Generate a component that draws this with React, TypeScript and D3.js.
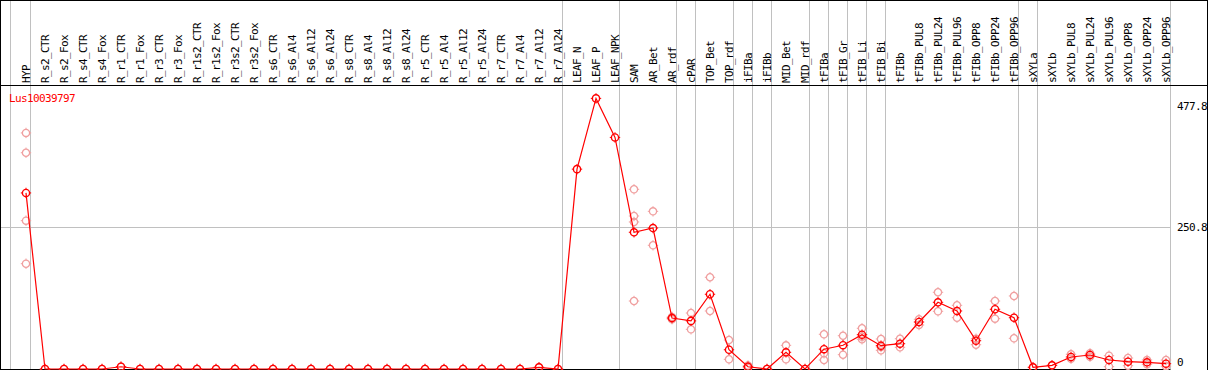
import React from "react";
import * as d3 from "d3";

const title = "Lus10039797";

const categories = [
  "HYP", "R_s2_CTR", "R_s2_Fox", "R_s4_CTR", "R_s4_Fox", "R_r1_CTR", "R_r1_Fox", "R_r3_CTR", "R_r3_Fox",
  "R_r1s2_CTR", "R_r1s2_Fox", "R_r3s2_CTR", "R_r3s2_Fox", "R_s6_CTR", "R_s6_Al4", "R_s6_Al12", "R_s6_Al24",
  "R_s8_CTR", "R_s8_Al4", "R_s8_Al12", "R_s8_Al24", "R_r5_CTR", "R_r5_Al4", "R_r5_Al12", "R_r5_Al24",
  "R_r7_CTR", "R_r7_Al4", "R_r7_Al12", "R_r7_Al24", "LEAF_N", "LEAF_P", "LEAF_NPK", "SAM", "AR_Bet", "AR_rdf",
  "cPAR", "TOP_Bet", "TOP_rdf", "iFIBa", "iFIBb", "MID_Bet", "MID_rdf", "tFIBa", "tFIB_Gr", "tFIB_Li", "tFIB_Bi",
  "tFIBb", "tFIBb_PUL8", "tFIBb_PUL24", "tFIBb_PUL96", "tFIBb_OPP8", "tFIBb_OPP24", "tFIBb_OPP96",
  "sXYLa", "sXYLb", "sXYLb_PUL8", "sXYLb_PUL24", "sXYLb_PUL96", "sXYLb_OPP8", "sXYLb_OPP24", "sXYLb_OPP96",
];

const meanValues = [
  311, 0, 0, 0, 0, 4, 0, 0, 0,
  0, 0, 0, 0, 0, 0, 0, 0,
  0, 0, 0, 0, 0, 0, 0, 0,
  0, 0, 3, 0, 353, 478, 409, 241.5, 249, 90,
  85, 132, 34, 4, 0, 29.5, 0, 35, 42, 60.6, 41.2,
  44.7, 83, 117.8, 102.5, 50, 105.5, 90.6,
  3, 6.5, 21.2, 24.7, 15.9, 12.9, 11.8, 9.4,
];

const replicateValues: number[][] = [
  [417, 382, 262, 186], [0], [0], [0], [0], [4], [0], [0], [0],
  [0], [0], [0], [0], [0], [0], [0], [0],
  [0], [0], [0], [0], [0], [0], [0], [0],
  [0], [0], [3], [0], [], [], [], [317.4, 270.3, 259.7, 120.1], [278.5, 218.5], [92, 88],
  [98.9, 70.1], [162, 102.5], [51.2, 17.1], [2, 6], [0], [41.8, 17.1], [0], [61.3, 27.7, 15.9], [58.8, 25.3], [71.9, 57, 52.5], [53, 38.9, 33],
  [53.5, 38.3], [87.8, 77.7], [135.5, 101.9], [112.5, 90.6], [53.5, 42.9], [120.1, 88.9], [129, 54.2],
  [3], [6.5], [26, 18.2], [27.7, 21.7], [23.5, 4.1], [19.4, 5.8], [15.9, 8.3], [15.9, 5],
];

// indices after which a group separator is drawn
const groupEnds = [0, 28, 31, 34, 35, 37, 38, 39, 41, 42, 43, 44, 45, 52, 53, 60];

const axisTicks = [0, 250.8, 477.8];
const gridValues = [250.8];

const W = 1209;
const H = 370;
const FONT = "'DejaVu Sans Mono', 'Liberation Mono', monospace";

export default function App() {
  const x = d3.scaleLinear().domain([0, categories.length - 1]).range([26, 1166]);
  const y = d3.scaleLinear().domain([0, 477.8]).range([369, 98.5]);
  const plotRight = x(categories.length - 1) + 4.5;

  const line = d3
    .line<number>()
    .x((_, i) => x(i))
    .y((d) => y(d));

  const marker = (cx: number, cy: number, color: string, sw: number, key: string) => (
    <g key={key} transform={`translate(${cx},${cy})`} stroke={color} strokeWidth={sw} fill="none">
      <circle r={3.6} />
      <line x1={0} y1={-3.6} x2={0} y2={-5.2} strokeWidth={1} />
      <line x1={0} y1={3.6} x2={0} y2={5.2} strokeWidth={1} />
      <line x1={-3.6} y1={0} x2={-5.2} y2={0} strokeWidth={1} />
      <line x1={3.6} y1={0} x2={5.2} y2={0} strokeWidth={1} />
    </g>
  );

  return (
    <svg
      width={W}
      height={H}
      style={{ position: "absolute", left: 0, top: 0, background: "#fff" }}
      fontFamily={FONT}
    >
      <rect x={0} y={0} width={W} height={H} fill="#fff" />
      {/* vertical group separators */}
      <line x1={10.5} x2={10.5} y1={0} y2={369} stroke="#c0c0c0" />
      {groupEnds.map((i) => {
        const xx = Math.round(x(i) + 4) + 0.5;
        return <line key={"g" + i} x1={xx} x2={xx} y1={0} y2={369} stroke="#c0c0c0" />;
      })}
      {/* horizontal grid */}
      {gridValues.map((v) => {
        const yy = Math.round(y(v)) + 0.5;
        return <line key={"h" + v} x1={1} x2={plotRight} y1={yy} y2={yy} stroke="#c0c0c0" />;
      })}
      {/* frame */}
      <line x1={0} x2={1207.5} y1={0.5} y2={0.5} stroke="#000" />
      <line x1={0.5} x2={0.5} y1={0} y2={370} stroke="#000" />
      <line x1={1207.5} x2={1207.5} y1={0} y2={370} stroke="#000" />
      <line x1={0} x2={1207.5} y1={85.5} y2={85.5} stroke="#000" />
      <line x1={0} x2={plotRight} y1={369.5} y2={369.5} stroke="#000" />

      {/* header labels */}
      {categories.map((c, i) => (
        <text
          key={"t" + c}
          transform={`translate(${x(i) + 3.5},83) rotate(-90)`}
          fontSize={11}
          letterSpacing={-0.62}
          fill="#000"
        >
          {c}
        </text>
      ))}

      {/* title */}
      <text x={9} y={102} fontSize={11} letterSpacing={-0.62} fill="#ff0000">
        {title}
      </text>

      {/* axis labels */}
      {axisTicks.map((v, i) => {
        const yy = i === 0 ? 366 : i === axisTicks.length - 1 ? y(v) + 11 : y(v) + 4;
        return (
          <text key={"a" + v} x={1177} y={yy} fontSize={11} letterSpacing={-0.62} fill="#000">
            {String(v)}
          </text>
        );
      })}

      {/* replicate markers */}
      {replicateValues.map((reps, i) =>
        reps.map((v, j) => marker(x(i), y(v), "#f0a0a0", 1.3, `r${i}-${j}`))
      )}

      {/* mean line */}
      <path d={line(meanValues) || ""} fill="none" stroke="#ff0000" strokeWidth={1.2} />

      {/* mean markers */}
      {meanValues.map((v, i) => marker(x(i), y(v), "#ff0000", 1.4, `m${i}`))}
    </svg>
  );
}
